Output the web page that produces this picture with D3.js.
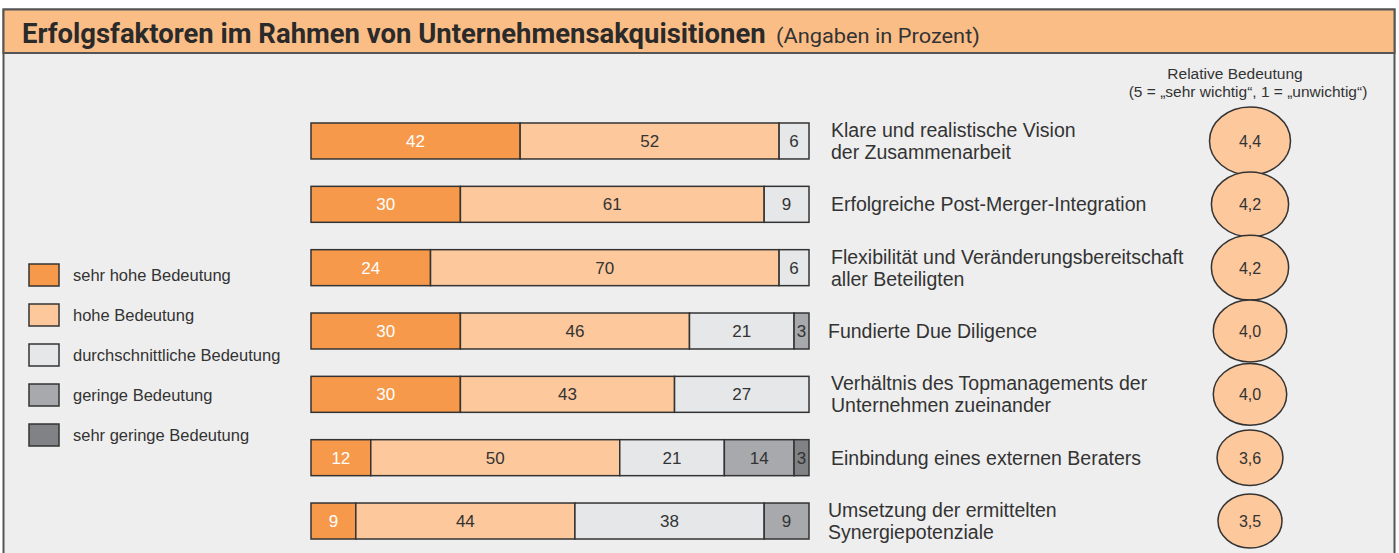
<!DOCTYPE html>
<html>
<head>
<meta charset="utf-8">
<script src="https://cdn.jsdelivr.net/npm/d3@7"></script>
<style>
  body { margin: 0; background: #fff; }
  svg text { font-family: "Liberation Sans", Arial, sans-serif; fill: #333; }
</style>
</head>
<body>
<script>
"use strict";
const factors = [
  ["Klare und realistische Vision", "der Zusammenarbeit"],
  ["Erfolgreiche Post-Merger-Integration"],
  ["Flexibilität und Veränderungsbereitschaft", "aller Beteiligten"],
  ["Fundierte Due Diligence"],
  ["Verhältnis des Topmanagements der", "Unternehmen zueinander"],
  ["Einbindung eines externen Beraters"],
  ["Umsetzung der ermittelten", "Synergiepotenziale"]
];
const sehrHoch = [42, 30, 24, 30, 30, 12, 9];
const hoch = [52, 61, 70, 46, 43, 50, 44];
const durchschnitt = [6, 9, 6, 21, 27, 21, 38];
const gering = [0, 0, 0, 3, 0, 14, 9];
const sehrGering = [0, 0, 0, 0, 0, 3, 0];
const relevance = [4.4, 4.2, 4.2, 4.0, 4.0, 3.6, 3.5];
const levels = ["sehr hohe Bedeutung", "hohe Bedeutung", "durchschnittliche Bedeutung", "geringe Bedeutung", "sehr geringe Bedeutung"];
const colors = ["#f7994a", "#fdc89c", "#e6e7e8", "#a7a9ac", "#808285"];

const W = 1399, H = 553;
const svg = d3.select("body").append("svg").attr("width", W).attr("height", H);

// frame + header
svg.append("rect").attr("x", 3.5).attr("y", 9.5).attr("width", 1391).attr("height", 560)
  .attr("fill", "#eeeeee").attr("stroke", "#555").attr("stroke-width", 2);
svg.append("rect").attr("x", 3.5).attr("y", 9.5).attr("width", 1391).attr("height", 43.5)
  .attr("fill", "#fbbd86").attr("stroke", "#555").attr("stroke-width", 2);

// squeeze a text horizontally so it fills the given width
function fitText(sel, x0, width) {
  const w = sel.node().getComputedTextLength();
  sel.attr("transform", `translate(${x0},0) scale(${width / w},1) translate(${-x0},0)`);
}
const title = svg.append("text").attr("x", 22).attr("y", 43)
  .style("font-family", "Roboto, sans-serif").attr("font-weight", "bold").attr("font-size", 28)
  .style("fill", "#2a2a2a")
  .text("Erfolgsfaktoren im Rahmen von Unternehmensakquisitionen");
fitText(title, 22, 744);
const sub = svg.append("text").attr("x", 776).attr("y", 43)
  .style("font-family", "Roboto, sans-serif").attr("font-size", 21)
  .text("(Angaben in Prozent)");
fitText(sub, 776, 204);

// scales
const x = d3.scaleLinear().domain([0, 100]).range([311, 809]);
const y = d3.scaleBand().domain(d3.range(factors.length)).range([123, 539]).paddingInner(0.432);

const rows = factors.map((f, i) => ({ i, v0: sehrHoch[i], v1: hoch[i], v2: durchschnitt[i], v3: gering[i], v4: sehrGering[i] }));
const stack = d3.stack().keys(["v0", "v1", "v2", "v3", "v4"]);
const series = stack(rows);

const seg = svg.append("g").selectAll("g").data(series).join("g")
  .attr("fill", (d, k) => colors[k]);
seg.selectAll("rect").data(d => d.filter(p => p[1] > p[0])).join("rect")
  .attr("x", p => x(p[0]))
  .attr("y", p => y(p.data.i))
  .attr("width", p => x(p[1]) - x(p[0]))
  .attr("height", y.bandwidth())
  .attr("stroke", "#333").attr("stroke-width", 1.5);
seg.each(function (d, k) {
  d3.select(this).selectAll("text").data(d.filter(p => p[1] > p[0])).join("text")
    .attr("x", p => (x(p[0]) + x(p[1])) / 2)
    .attr("y", p => y(p.data.i) + y.bandwidth() / 2 + 6)
    .attr("text-anchor", "middle")
    .attr("font-size", 17)
    .style("fill", k === 0 ? "#fff" : "#333")
    .text(p => p[1] - p[0]);
});

// factor labels
const lab = svg.append("g").selectAll("text").data(factors).join("text")
  .attr("x", 831).attr("font-size", 19.5);
lab.each(function (lines, i) {
  const cy = y(i) + y.bandwidth() / 2;
  const t = d3.select(this);
  lines.forEach((l, j) => {
    t.append("tspan").attr("x", (i === 3 || i === 6) ? 828 : 831)
      .attr("y", cy + 7 + (j - (lines.length - 1) / 2) * 22)
      .text(l);
  });
});

// relevance ellipses
const rx = d3.scaleLinear().domain([3.5, 4.4]).range([32, 40.5]);
const ry = d3.scaleLinear().domain([3.5, 4.4]).range([27, 34]);
const cx = 1250;
svg.append("text").attr("x", 1235).attr("y", 79).attr("text-anchor", "middle").attr("font-size", 15.5)
  .text("Relative Bedeutung");
svg.append("text").attr("x", 1248).attr("y", 97).attr("text-anchor", "middle").attr("font-size", 15.5)
  .text("(5 = „sehr wichtig“, 1 = „unwichtig“)");
const circ = svg.append("g").selectAll("g").data(relevance).join("g")
  .attr("transform", (d, i) => `translate(${cx},${y(i) + y.bandwidth() / 2})`);
circ.append("ellipse").attr("rx", d => rx(d)).attr("ry", d => ry(d))
  .attr("fill", colors[1]).attr("stroke", "#333").attr("stroke-width", 1.5);
circ.append("text").attr("text-anchor", "middle").attr("y", 6).attr("font-size", 16)
  .text(d => d3.format(".1f")(d).replace(".", ","));

// legend
const leg = svg.append("g").selectAll("g").data(levels).join("g")
  .attr("transform", (d, i) => `translate(29,${264 + i * 40})`);
leg.append("rect").attr("width", 30).attr("height", 22)
  .attr("fill", (d, i) => colors[i]).attr("stroke", "#333").attr("stroke-width", 1.5);
leg.append("text").attr("x", 44).attr("y", 17).attr("font-size", 16.5).text(d => d);
</script>
</body>
</html>
